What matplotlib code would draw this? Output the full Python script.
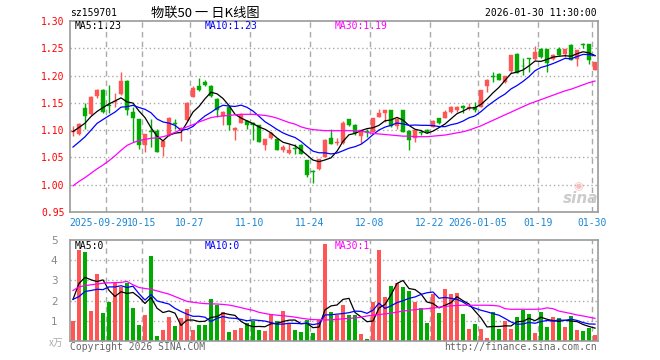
import numpy as np
import matplotlib
matplotlib.use('Agg')
import matplotlib.pyplot as plt

plt.rcParams['font.family'] = ['DejaVu Sans Mono', 'Noto Sans CJK SC']

# daily candles, 2025-09-19 .. 2026-01-30 (88 trading days)
opens = [1.097, 1.093, 1.140, 1.129, 1.163, 1.174, 1.146, 1.151, 1.166, 1.190,
         1.134, 1.121, 1.072, 1.098, 1.098, 1.069, 1.091, 1.113, 1.100, 1.118,
         1.161, 1.180, 1.189, 1.181, 1.157, 1.126, 1.143, 1.100, 1.114, 1.117,
         1.114, 1.109, 1.072, 1.085, 1.083, 1.063, 1.059, 1.067, 1.072, 1.046,
         1.025, 1.028, 1.051, 1.086, 1.077, 1.076, 1.120, 1.110, 1.090, 1.098,
         1.097, 1.125, 1.132, 1.136, 1.107, 1.137, 1.099, 1.085, 1.096, 1.101,
         1.106, 1.122, 1.122, 1.134, 1.136, 1.144, 1.141, 1.142, 1.143, 1.181,
         1.199, 1.203, 1.189, 1.208, 1.240, 1.218, 1.232, 1.230, 1.249, 1.248,
         1.230, 1.249, 1.240, 1.256, 1.230, 1.257, 1.257, 1.211]
highs = [1.108, 1.113, 1.150, 1.162, 1.176, 1.175, 1.183, 1.168, 1.206, 1.191,
         1.143, 1.121, 1.093, 1.121, 1.103, 1.080, 1.124, 1.121, 1.106, 1.152,
         1.180, 1.195, 1.191, 1.183, 1.158, 1.135, 1.146, 1.105, 1.131, 1.118,
         1.115, 1.110, 1.083, 1.097, 1.085, 1.072, 1.075, 1.075, 1.075, 1.046,
         1.027, 1.048, 1.083, 1.103, 1.085, 1.116, 1.121, 1.111, 1.101, 1.103,
         1.123, 1.138, 1.137, 1.137, 1.123, 1.137, 1.100, 1.102, 1.100, 1.103,
         1.118, 1.122, 1.136, 1.144, 1.145, 1.146, 1.149, 1.152, 1.174, 1.193,
         1.206, 1.204, 1.200, 1.237, 1.241, 1.232, 1.232, 1.255, 1.250, 1.249,
         1.240, 1.252, 1.249, 1.257, 1.247, 1.260, 1.258, 1.225]
lows = [1.089, 1.091, 1.103, 1.127, 1.158, 1.131, 1.131, 1.143, 1.165, 1.128,
        1.078, 1.066, 1.060, 1.069, 1.060, 1.053, 1.090, 1.103, 1.081, 1.117,
        1.160, 1.171, 1.180, 1.160, 1.125, 1.109, 1.100, 1.082, 1.113, 1.103,
        1.082, 1.078, 1.064, 1.084, 1.063, 1.060, 1.057, 1.057, 1.056, 1.014,
        1.003, 1.027, 1.050, 1.075, 1.072, 1.075, 1.108, 1.092, 1.077, 1.088,
        1.096, 1.124, 1.115, 1.105, 1.103, 1.097, 1.063, 1.078, 1.091, 1.095,
        1.105, 1.112, 1.122, 1.131, 1.134, 1.131, 1.137, 1.134, 1.143, 1.169,
        1.189, 1.192, 1.186, 1.205, 1.205, 1.201, 1.206, 1.229, 1.233, 1.206,
        1.229, 1.237, 1.234, 1.228, 1.217, 1.251, 1.221, 1.210]
closes = [1.098, 1.112, 1.126, 1.161, 1.174, 1.134, 1.145, 1.153, 1.190, 1.137,
          1.123, 1.072, 1.093, 1.097, 1.060, 1.080, 1.123, 1.112, 1.104, 1.150,
          1.177, 1.174, 1.183, 1.163, 1.136, 1.134, 1.109, 1.104, 1.128, 1.110,
          1.109, 1.078, 1.083, 1.095, 1.063, 1.070, 1.063, 1.066, 1.056, 1.017,
          1.024, 1.048, 1.082, 1.075, 1.078, 1.114, 1.109, 1.094, 1.100, 1.097,
          1.122, 1.131, 1.136, 1.107, 1.121, 1.097, 1.082, 1.101, 1.095, 1.096,
          1.117, 1.114, 1.134, 1.143, 1.143, 1.141, 1.142, 1.136, 1.174, 1.192,
          1.198, 1.192, 1.200, 1.237, 1.205, 1.217, 1.230, 1.244, 1.234, 1.223,
          1.238, 1.238, 1.249, 1.229, 1.246, 1.256, 1.228, 1.224]
# closes of the 9 sessions before the window (for the MA5 / MA10 start)
prev_close = [1.02, 1.03, 1.04, 1.05, 1.062, 1.076, 1.086, 1.10, 1.128]
ma30 = [0.998, 1.006, 1.013, 1.021, 1.029, 1.036, 1.044, 1.053, 1.063, 1.072,
        1.077, 1.081, 1.083, 1.085, 1.086, 1.088, 1.091, 1.096, 1.101, 1.106,
        1.110, 1.115, 1.119, 1.123, 1.125, 1.126, 1.127, 1.128, 1.129, 1.129,
        1.129, 1.128, 1.127, 1.125, 1.122, 1.118, 1.114, 1.111, 1.106, 1.103,
        1.101, 1.100, 1.099, 1.099, 1.099, 1.099, 1.099, 1.099, 1.098, 1.096,
        1.094, 1.093, 1.092, 1.091, 1.090, 1.089, 1.089, 1.088, 1.088, 1.088,
        1.089, 1.090, 1.091, 1.093, 1.095, 1.097, 1.100, 1.104, 1.108, 1.113,
        1.118, 1.123, 1.128, 1.133, 1.138, 1.143, 1.148, 1.152, 1.156, 1.160,
        1.164, 1.168, 1.172, 1.175, 1.179, 1.183, 1.187, 1.190]

# volume, x10k lots
volume = [0.98, 4.52, 4.39, 1.49, 3.34, 1.39, 1.93, 2.86, 2.69, 2.89,
          1.64, 0.78, 1.28, 4.19, 0.23, 0.56, 1.18, 0.73, 1.15, 1.57,
          0.56, 0.80, 0.80, 2.10, 1.77, 1.44, 0.47, 0.56, 0.62, 0.90,
          1.00, 0.52, 0.49, 1.36, 0.97, 1.48, 0.86, 0.52, 0.47, 1.06,
          0.39, 1.02, 4.78, 1.44, 1.28, 1.78, 1.28, 1.28, 0.36, 0.08,
          1.94, 4.49, 2.19, 2.73, 2.89, 2.69, 2.48, 1.94, 1.64, 0.89,
          2.33, 1.39, 2.58, 2.31, 2.36, 1.33, 0.58, 0.83, 0.61, 0.13,
          1.44, 0.58, 0.99, 0.58, 1.19, 1.53, 1.33, 0.39, 1.44, 0.69,
          1.19, 1.14, 0.69, 1.23, 0.56, 0.48, 0.64, 0.28]
prev_volume = [3.12, 1.88, 1.0, 2.74, 1.56, 0.57, 2.89, 2.09, 3.77]
vol_ma30 = [2.50, 2.68, 2.74, 2.78, 2.82, 2.86, 2.88, 2.89, 2.90, 2.95,
            2.78, 2.65, 2.60, 2.56, 2.48, 2.40, 2.32, 2.20, 2.08, 1.96,
            1.92, 1.88, 1.85, 1.84, 1.83, 1.81, 1.78, 1.72, 1.65, 1.58,
            1.52, 1.42, 1.36, 1.31, 1.28, 1.25, 1.22, 1.18, 1.13, 1.09,
            1.06, 1.05, 1.04, 1.05, 1.07, 1.10, 1.12, 1.14, 1.18, 1.24,
            1.28, 1.31, 1.34, 1.38, 1.43, 1.48, 1.52, 1.55, 1.58, 1.60,
            1.63, 1.67, 1.71, 1.74, 1.76, 1.77, 1.77, 1.77, 1.77, 1.77,
            1.76, 1.73, 1.60, 1.57, 1.57, 1.57, 1.57, 1.57, 1.58, 1.64,
            1.60, 1.48, 1.42, 1.36, 1.29, 1.24, 1.18, 1.12]

date_idx = [6, 12, 20, 30, 40, 50, 60, 68, 78, 87]
date_labels = ['2025-09-29', '10-15', '10-27', '11-10', '11-24', '12-08',
               '12-22', '2026-01-05', '01-19', '01-30']
price_ticks = [0.95, 1.00, 1.05, 1.10, 1.15, 1.20, 1.25, 1.30]
vol_ticks = [1, 2, 3, 4, 5]

RED = '#ff5555'
GREEN = '#00aa00'
GRID = '#aaaaaa'
FRAME = '#999999'
W, H = 660, 360


def ma(prev, vals, n):
    full = np.array(prev + vals)
    out = np.convolve(full, np.ones(n) / n, 'valid')
    return out[-len(vals):]


o = np.array(opens); c = np.array(closes)
hi = np.array(highs); lo = np.array(lows)
x = np.arange(len(closes))
up = c >= o
colors = np.where(up, RED, GREEN)

fig = plt.figure(figsize=(6.6, 3.6), dpi=100)
ax = fig.add_axes([70 / W, 1 - 212 / H, 528 / W, 191 / H])
axv = fig.add_axes([70 / W, 1 - 341 / H, 528 / W, 101 / H])

for a in (ax, axv):
    a.set_xlim(-0.5, len(x) - 0.5)
    for s in a.spines.values():
        s.set_color(FRAME)
        s.set_linewidth(1.2)
    for d in date_idx:
        a.axvline(d - 0.5, color=GRID, lw=1, ls=(0, (4, 3)), zorder=0)
    a.tick_params(length=0)
    a.set_xticks([])

# price panel
ax.set_ylim(0.95, 1.30)
for t in price_ticks[1:-1]:
    ax.axhline(t, color=GRID, lw=1, ls=(0, (1, 2)), zorder=0)
ax.set_yticks(price_ticks)
ax.set_yticklabels(['%.2f' % t for t in price_ticks], color='red', fontsize=7)
ax.tick_params(axis='y', pad=4)

ax.vlines(x, lo, hi, colors=colors, lw=1, zorder=2)
body = np.maximum(np.abs(c - o), 0.0012)
ax.bar(x, body, bottom=np.minimum(o, c), width=0.68, color=colors,
       edgecolor=colors, lw=0.3, zorder=3)

ax.plot(x, ma(prev_close, closes, 5), color='black', lw=0.9, zorder=4)
ax.plot(x, ma(prev_close, closes, 10), color='#0000ff', lw=0.9, zorder=4)
ax.plot(x, ma30, color='#ff00ff', lw=0.9, zorder=4)

# volume panel
axv.set_ylim(0, 5)
for t in vol_ticks[:-1]:
    axv.axhline(t, color=GRID, lw=1, ls=(0, (1, 2)), zorder=0)
axv.set_yticks(vol_ticks)
axv.set_yticklabels([str(t) for t in vol_ticks], color='#888888', fontsize=7.5,
                    family='DejaVu Sans')
axv.tick_params(axis='y', pad=9)
axv.bar(x, volume, width=0.72, color=colors, zorder=2)
axv.plot(x, ma(prev_volume, volume, 5), color='black', lw=0.9, zorder=4)
axv.plot(x, ma(prev_volume, volume, 10), color='#0000ff', lw=0.9, zorder=4)
axv.plot(x, vol_ma30, color='#ff00ff', lw=0.9, zorder=4)

# date labels under price panel (first one sits a little left, as in the source)
for d, lab in zip(date_idx, date_labels):
    shift = -1.3 if lab == '2025-09-29' else 0
    ax.text(d - 0.5 + shift, -0.055, lab, transform=ax.get_xaxis_transform(),
            ha='center', va='center', color='#1a86d6', fontsize=7)


def ftext(px, py, s, **kw):
    fig.text(px / W, 1 - py / H, s, **kw)


ftext(70, 13, 'sz159701', fontsize=7, va='center')
ftext(151, 13, '物联50 一 日K线图', fontsize=9.5, va='center',
      family=['Noto Sans CJK SC', 'DejaVu Sans'])
ftext(597, 13, '2026-01-30 11:30:00', fontsize=7, va='center', ha='right')

ftext(75, 26, 'MA5:1.23', fontsize=7, va='center', color='black')
ftext(205, 26, 'MA10:1.23', fontsize=7, va='center', color='#0000ff')
ftext(335, 26, 'MA30:1.19', fontsize=7, va='center', color='#ff00ff')

ftext(75, 246, 'MA5:0', fontsize=7, va='center', color='black')
ftext(205, 246, 'MA10:0', fontsize=7, va='center', color='#0000ff')
ftext(335, 246, 'MA30:1', fontsize=7, va='center', color='#ff00ff')

ftext(49, 343, 'x万', fontsize=7, va='center', color='#aaaaaa',
      family=['Noto Sans CJK SC', 'DejaVu Sans'], style='italic')
ftext(70, 347, 'Copyright 2026 SINA.COM', fontsize=7, va='center', color='#666666')
ftext(597, 347, 'http://finance.sina.com.cn', fontsize=7, va='center',
      ha='right', color='#666666')

# sina watermark
ftext(581, 198, 'sina', fontsize=11, va='center', ha='center', color='#cccccc',
      weight='bold', style='italic', family='DejaVu Sans')
ftext(578, 186, '◉', fontsize=8, va='center', ha='center', color='#f4c0c0',
      family='DejaVu Sans')

fig.savefig('out.png', dpi=100)
